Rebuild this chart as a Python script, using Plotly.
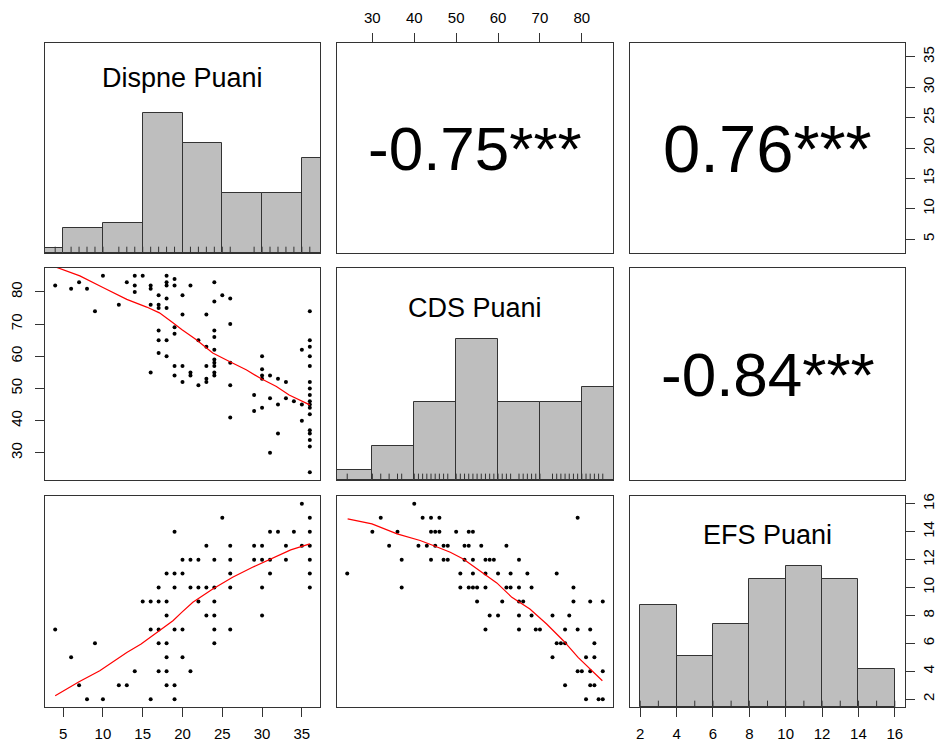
import plotly.graph_objects as go

# ---------------- data ----------------
var_names = ["Dispne Puani", "CDS Puani", "EFS Puani"]
corr_labels = {(0, 1): "-0.75***", (0, 2): "0.76***", (1, 2): "-0.84***"}

dispne_edges = [0, 5, 10, 15, 20, 25, 30, 35, 40]
dispne_counts = [1, 5, 6, 28, 22, 12, 12, 19]
cds_edges = [20, 30, 40, 50, 60, 70, 80, 90]
cds_counts = [2, 7, 16, 29, 16, 16, 19]
efs_edges = [2, 4, 6, 8, 10, 12, 14, 16]
efs_counts = [16, 8, 13, 20, 22, 20, 6]

dispne_ticks = [5, 10, 15, 20, 25, 30, 35]
cds_ticks = [30, 40, 50, 60, 70, 80]
efs_ticks = [2, 4, 6, 8, 10, 12, 14, 16]

# Dispne (x) vs CDS (y)
dc_x = [4, 6, 7, 8, 9, 10, 12, 13, 14, 14, 14, 15, 16, 16, 16, 16, 17, 17, 17, 17, 17, 17,
        18, 18, 18, 18, 18, 18, 18, 19, 19, 19, 19, 19, 19, 20, 20, 20, 20, 21, 21, 21,
        22, 22, 23, 23, 23, 23, 23, 24, 24, 24, 24, 24, 24, 24, 24, 24, 24, 25, 26, 26,
        26, 26, 26, 29, 29, 30, 30, 30, 30, 30, 31, 31, 31, 32, 32, 32, 33, 33, 34, 35,
        35, 35, 36, 36, 36, 36, 36, 36, 36, 36, 36, 36, 36, 36, 36, 36, 36, 36, 36]
dc_y = [82, 81, 83, 81, 74, 85, 76, 83, 85, 82, 80, 85, 82, 81, 76, 55, 79, 76, 75, 68, 65, 61,
        85, 83, 82, 78, 75, 65, 60, 84, 82, 69, 67, 57, 54, 79, 73, 57, 52, 82, 55, 54,
        65, 51, 73, 63, 57, 53, 52, 83, 77, 68, 66, 62, 59, 58, 57, 55, 54, 79, 78, 70,
        58, 51, 41, 48, 43, 60, 56, 54, 53, 44, 54, 47, 30, 53, 45, 36, 52, 47, 46, 62,
        45, 40, 74, 65, 63, 60, 57, 52, 50, 48, 46, 45, 44, 42, 37, 36, 34, 32, 24]

# Dispne (x) vs EFS (y)
de_x = [4, 6, 7, 8, 9, 10, 12, 13, 14, 15, 16, 16, 16, 17, 17, 17, 17, 17, 18, 18, 18, 18,
        18, 18, 18, 19, 19, 19, 19, 19, 19, 20, 20, 20, 20, 21, 21, 21, 22, 22, 22, 23,
        23, 23, 24, 24, 24, 24, 24, 24, 25, 26, 26, 26, 26, 26, 29, 29, 30, 30, 30, 30,
        31, 31, 31, 32, 33, 33, 34, 35, 35, 36, 36, 36, 36, 36, 36]
de_y = [7, 5, 3, 2, 6, 2, 3, 3, 4, 9, 9, 7, 2, 10, 9, 7, 6, 4, 11, 9, 8, 6,
        5, 4, 3, 14, 11, 10, 7, 3, 2, 12, 11, 7, 5, 12, 10, 4, 12, 10, 9, 13,
        10, 8, 12, 10, 9, 8, 7, 6, 15, 13, 12, 11, 10, 7, 13, 12, 13, 12, 10, 8,
        14, 12, 11, 14, 13, 12, 14, 16, 13, 15, 14, 13, 12, 11, 10]

# CDS (x) vs EFS (y)
ce_x = [24, 30, 32, 34, 36, 37, 37, 40, 41, 42, 43, 44, 44, 44, 45, 45, 46, 46, 47, 47,
        48, 48, 50, 51, 51, 52, 52, 53, 53, 53, 54, 54, 54, 54, 55, 55, 56, 57, 57, 57,
        57, 58, 58, 59, 60, 60, 61, 62, 62, 63, 63, 65, 65, 65, 65, 65, 66, 67, 68, 68,
        69, 70, 73, 73, 74, 74, 75, 76, 76, 76, 77, 78, 78, 79, 79, 79, 80, 81, 81, 82,
        82, 82, 82, 83, 83, 83, 84, 85, 85, 85]
ce_y = [11, 14, 15, 13, 14, 12, 10, 16, 13, 15, 13, 15, 14, 12, 14, 13, 15, 14, 13, 12,
        13, 12, 14, 11, 10, 13, 12, 14, 13, 10, 14, 12, 11, 10, 10, 9, 13, 12, 11, 10,
        7, 12, 8, 12, 11, 8, 9, 13, 10, 11, 10, 12, 10, 9, 8, 7, 9, 11, 10, 8,
        7, 7, 8, 5, 11, 6, 6, 7, 6, 3, 8, 10, 9, 15, 7, 4, 4, 5, 2, 9,
        7, 4, 3, 6, 5, 3, 2, 9, 4, 2]

# loess smooths
lo_dc_x = [4, 7.1, 10, 13, 15.5, 17.1, 18.8, 19.9, 21.7, 23.8, 25.9, 28, 29.9, 31.8, 33.4, 36]
lo_dc_y = [87.8, 85, 81.4, 77.7, 75.3, 73.5, 70.4, 68.3, 65.2, 61.0, 58.4, 55.8, 53.0, 50.6, 48.0, 44.9]
lo_de_x = [4, 7, 9.6, 13, 14.8, 17.1, 18.8, 19.9, 21.3, 23.8, 26.3, 28.8, 31.1, 33.6, 36]
lo_de_y = [2.24, 3.25, 4.04, 5.35, 5.95, 6.9, 7.62, 8.22, 8.94, 9.9, 10.74, 11.45, 12.05, 12.7, 13.13]
lo_ce_x = [24.1, 29.9, 35.9, 41.4, 45, 48.6, 51.7, 55.7, 59.7, 63.3, 67.6, 71.6, 75.6, 79.1, 82.3, 84.9]
lo_ce_y = [14.92, 14.56, 13.85, 13.37, 12.96, 12.53, 12.05, 11.21, 10.33, 9.30, 8.46, 7.39, 6.19, 4.99, 4.04, 3.32]

# ---------------- layout helpers ----------------
W, H = 937, 743
col_px = [(45, 320), (337, 613), (630, 905)]
row_px = [(43, 253), (268, 480), (496, 707)]
FONT = "Liberation Sans, Arial, sans-serif"
LINE = "#333333"


def ext_range(vals):
    lo, hi = min(vals), max(vals)
    d = (hi - lo) * 0.04
    return [lo - d, hi + d]


var_ranges = [ext_range(de_x), ext_range(ce_x), ext_range(de_y)]
var_ticks = [dispne_ticks, cds_ticks, efs_ticks]
hist_data = [(dispne_edges, dispne_counts), (cds_edges, cds_counts), (efs_edges, efs_counts)]
rug_vals = [sorted(set(de_x)), sorted(set(ce_x)), sorted(set(de_y))]

fig = go.Figure()


def pid(r, c):
    return r * 3 + c + 1


def axref(p, letter):
    return letter if p == 1 else f"{letter}{p}"


def axkey(p, letter):
    return f"{letter}axis" if p == 1 else f"{letter}axis{p}"


base_axis = dict(showline=True, mirror=True, linecolor=LINE, linewidth=1,
                 showgrid=False, zeroline=False, fixedrange=True, automargin=False,
                 ticks="", showticklabels=False,
                 tickfont=dict(family=FONT, size=15, color="#000000"),
                 ticklen=9, tickwidth=1, tickcolor=LINE, ticklabelstandoff=4)

# which panels carry visible tick axes
x_ticks_side = {(0, 1): "top", (2, 0): "bottom", (2, 2): "bottom"}
y_ticks_side = {(0, 2): "right", (1, 0): "left"}

annotations = []
for r in range(3):
    for c in range(3):
        p = pid(r, c)
        xr, yr = axref(p, "x"), axref(p, "y")
        xd = [col_px[c][0] / W, col_px[c][1] / W]
        yd = [1 - row_px[r][1] / H, 1 - row_px[r][0] / H]
        xa = dict(base_axis, domain=xd, anchor=yr, range=var_ranges[c])
        if r == c:
            ya = dict(base_axis, domain=yd, anchor=xr, range=[0, 1.5])
        else:
            ya = dict(base_axis, domain=yd, anchor=xr, range=var_ranges[r])
        if (r, c) in x_ticks_side:
            xa.update(side=x_ticks_side[(r, c)], ticks="outside", showticklabels=True,
                      tickmode="array", tickvals=var_ticks[c])
        if (r, c) in y_ticks_side:
            side = y_ticks_side[(r, c)]
            ya.update(side=side, ticks="outside", showticklabels=True,
                      tickmode="array", tickvals=var_ticks[r], tickangle=-90,
                      ticklabelstandoff=7 if side == "left" else 1)
        fig.update_layout({axkey(p, "x"): xa, axkey(p, "y"): ya})

        if r == c:
            edges, counts = hist_data[r]
            mx = max(counts)
            centers = [(edges[i] + edges[i + 1]) / 2 for i in range(len(counts))]
            widths = [edges[i + 1] - edges[i] for i in range(len(counts))]
            heights = [cnt / mx for cnt in counts]
            fig.add_trace(go.Bar(x=centers, y=heights, width=widths, xaxis=xr, yaxis=yr,
                                 marker=dict(color="#BEBEBE", line=dict(color=LINE, width=1)),
                                 showlegend=False, hoverinfo="skip"))
            rx, ry = [], []
            for v in rug_vals[r]:
                rx += [v, v, None]
                ry += [0, 0.045, None]
            fig.add_trace(go.Scatter(x=rx, y=ry, mode="lines", xaxis=xr, yaxis=yr,
                                     line=dict(color=LINE, width=1),
                                     showlegend=False, hoverinfo="skip"))
            # variable name
            top, bot = row_px[r]
            cap_center = {0: 78, 1: 308, 2: 535}[r]
            annotations.append(dict(text=var_names[r], xref=f"{xr} domain", x=0.5,
                                    yref=f"{yr} domain", y=(bot - cap_center) / (bot - top),
                                    showarrow=False, xanchor="center", yanchor="middle",
                                    font=dict(family=FONT, size=27, color="#000000")))
        elif r > c:
            if (r, c) == (1, 0):
                sx, sy, lx, ly = dc_x, dc_y, lo_dc_x, lo_dc_y
            elif (r, c) == (2, 0):
                sx, sy, lx, ly = de_x, de_y, lo_de_x, lo_de_y
            else:
                sx, sy, lx, ly = ce_x, ce_y, lo_ce_x, lo_ce_y
            fig.add_trace(go.Scatter(x=sx, y=sy, mode="markers", xaxis=xr, yaxis=yr,
                                     marker=dict(color="#000000", size=4, symbol="circle"),
                                     showlegend=False, hoverinfo="skip"))
            fig.add_trace(go.Scatter(x=lx, y=ly, mode="lines", xaxis=xr, yaxis=yr,
                                     line=dict(color="#FF0000", width=1.2),
                                     showlegend=False, hoverinfo="skip"))
        else:
            fig.add_trace(go.Scatter(x=[], y=[], xaxis=xr, yaxis=yr, showlegend=False,
                                     hoverinfo="skip"))
            txt = corr_labels[(r, c)]
            size = 67 if not txt.startswith("-") else 62
            annotations.append(dict(text=txt, xref=f"{xr} domain", x=0.5,
                                    yref=f"{yr} domain", y=0.5, showarrow=False,
                                    xanchor="center", yanchor="middle",
                                    font=dict(family=FONT, size=size, color="#000000")))

# extra right-hand EFS axis on the EFS histogram panel
p9 = pid(2, 2)
fig.update_layout(yaxis10=dict(base_axis, overlaying=axref(p9, "y"), anchor=axref(p9, "x"),
                               side="right", range=var_ranges[2], showline=False,
                               ticks="outside", showticklabels=True, tickmode="array",
                               tickvals=efs_ticks, tickangle=-90, ticklabelstandoff=1))
fig.add_trace(go.Scatter(x=[], y=[], xaxis=axref(p9, "x"), yaxis="y10", showlegend=False,
                         hoverinfo="skip"))

fig.update_layout(width=W, height=H, margin=dict(l=0, r=0, t=0, b=0, autoexpand=False),
                  paper_bgcolor="white", plot_bgcolor="white",
                  font=dict(family=FONT, color="#000000"),
                  annotations=annotations, showlegend=False, bargap=0)

fig.write_html("out.html", config={"displayModeBar": False},
               post_script="document.body.style.margin='0';document.body.style.overflow='hidden';")
